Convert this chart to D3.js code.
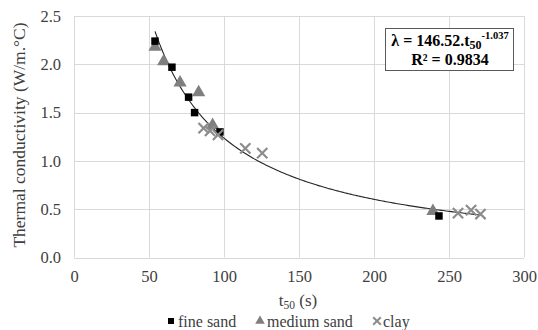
<!DOCTYPE html>
<html>
<head>
<meta charset="utf-8">
<script src="https://cdn.jsdelivr.net/npm/d3@7"></script>
<style>
  html, body { margin: 0; padding: 0; background: #fff; }
  svg text { font-family: "Liberation Serif", "Times New Roman", "DejaVu Serif", serif !important; }
</style>
</head>
<body>
<svg id="chart" width="538" height="330"></svg>
<script>
// Measured t50 (s) and thermal conductivity (W/m.°C) per soil type
const fineSandT = [54, 65.3, 76.4, 80.4, 97.3, 243.3];
const fineSandK = [2.24, 1.97, 1.66, 1.50, 1.30, 0.43];
const mediumSandT = [54, 59.8, 70.7, 83.1, 92.4, 239.3];
const mediumSandK = [2.18, 2.03, 1.81, 1.71, 1.37, 0.48];
const clayT = [86.4, 90.7, 96, 114.2, 125.5, 256, 264.7, 271];
const clayK = [1.34, 1.31, 1.27, 1.13, 1.08, 0.46, 0.49, 0.45];

// Power-law fit λ = a · t50^b
const fitA = 146.52;
const fitB = -1.037;
const fitR2 = 0.9834;

const xTicks = [0, 50, 100, 150, 200, 250, 300];
const yTicks = [0.0, 0.5, 1.0, 1.5, 2.0, 2.5];

const svg = d3.select("#chart");
const x = d3.scaleLinear().domain([0, 300]).range([74, 524]);
const y = d3.scaleLinear().domain([0, 2.5]).range([257.5, 16]);

const gridColor = "#d9d9d9";
const textColor = "#404040";

// Gridlines
svg.append("g").selectAll("line").data(yTicks).join("line")
  .attr("x1", x(0)).attr("x2", x(300))
  .attr("y1", d => Math.round(y(d)) + 0.5).attr("y2", d => Math.round(y(d)) + 0.5)
  .attr("stroke", gridColor).attr("stroke-width", 1);
svg.append("g").selectAll("line").data(xTicks).join("line")
  .attr("x1", d => Math.round(x(d)) + 0.5).attr("x2", d => Math.round(x(d)) + 0.5)
  .attr("y1", y(0)).attr("y2", y(2.5))
  .attr("stroke", gridColor).attr("stroke-width", 1);

// Axes (labels only; lines come from the grid)
const xAxis = svg.append("g").attr("transform", `translate(0,${y(0)})`)
  .call(d3.axisBottom(x).tickValues(xTicks).tickSize(0).tickPadding(13).tickFormat(d3.format("d")));
const yAxis = svg.append("g").attr("transform", `translate(${x(0)},0)`)
  .call(d3.axisLeft(y).tickValues(yTicks).tickSize(0).tickPadding(13).tickFormat(d3.format(".1f")));
[xAxis, yAxis].forEach(g => {
  g.attr("font-family", null).attr("font-size", null);
  g.select(".domain").remove();
  g.selectAll("text").attr("font-size", 16.5).attr("fill", textColor);
});

// Fitted curve across the data range
const allT = fineSandT.concat(mediumSandT, clayT);
const tMin = d3.min(allT), tMax = d3.max(allT);
const curveT = d3.range(0, 201).map(i => tMin + (tMax - tMin) * i / 200);
svg.append("path")
  .datum(curveT)
  .attr("fill", "none").attr("stroke", "#262626").attr("stroke-width", 1.1)
  .attr("d", d3.line().x(t => x(t)).y(t => y(fitA * Math.pow(t, fitB))));

// Markers
const sqSym = d3.symbol().type(d3.symbolSquare).size(56);
const triSym = d3.symbol().type(d3.symbolTriangle).size(76);
const xSym = d3.symbol().type(d3.symbolTimes).size(70);

svg.append("g").selectAll("path").data(mediumSandT.map((t, i) => [t, mediumSandK[i]])).join("path")
  .attr("transform", d => `translate(${x(d[0])},${y(d[1])})`)
  .attr("d", triSym).attr("fill", "#7f7f7f");
svg.append("g").selectAll("path").data(fineSandT.map((t, i) => [t, fineSandK[i]])).join("path")
  .attr("transform", d => `translate(${x(d[0])},${y(d[1])})`)
  .attr("d", sqSym).attr("fill", "#000");
svg.append("g").selectAll("path").data(clayT.map((t, i) => [t, clayK[i]])).join("path")
  .attr("transform", d => `translate(${x(d[0])},${y(d[1])})`)
  .attr("d", xSym).attr("fill", "none").attr("stroke", "#8c8c8c").attr("stroke-width", 2.2);

// Equation box
const box = svg.append("g");
box.append("rect").attr("x", 385.5).attr("y", 28.5).attr("width", 128).attr("height", 42)
  .attr("fill", "#fff").attr("stroke", "#595959").attr("stroke-width", 1);
const eq = box.append("text").attr("x", 450).attr("y", 46).attr("text-anchor", "middle")
  .attr("font-size", 16).attr("font-weight", "bold").attr("fill", "#000");
eq.append("tspan").text(`λ = ${fitA}.t`);
eq.append("tspan").attr("font-size", 12).attr("dy", 3).text("50");
eq.append("tspan").attr("font-size", 10.5).attr("dy", -10).text(fitB.toFixed(3));
box.append("text").attr("x", 450).attr("y", 65).attr("text-anchor", "middle")
  .attr("font-size", 16).attr("font-weight", "bold").attr("fill", "#000")
  .text(`R² = ${fitR2}`);

// Axis titles
svg.append("text").attr("transform", `translate(25,135) rotate(-90)`)
  .attr("text-anchor", "middle").attr("font-size", 17.5).attr("fill", textColor)
  .text("Thermal conductivity (W/m.°C)");
const xt = svg.append("text").attr("x", 298).attr("y", 306).attr("text-anchor", "middle")
  .attr("font-size", 17).attr("fill", textColor);
xt.append("tspan").text("t");
xt.append("tspan").attr("font-size", 11.5).attr("dy", 3).text("50");
xt.append("tspan").attr("dy", -3).text(" (s)");

// Legend
const legendItems = [
  { label: "fine sand", sym: d3.symbol().type(d3.symbolSquare).size(36), mx: 171, tx: 178, fill: "#000", stroke: "none" },
  { label: "medium sand", sym: d3.symbol().type(d3.symbolTriangle).size(40), mx: 260, tx: 267, fill: "#7f7f7f", stroke: "none" },
  { label: "clay", sym: d3.symbol().type(d3.symbolTimes).size(40), mx: 377, tx: 383, fill: "none", stroke: "#8c8c8c" }
];
const lg = svg.append("g");
legendItems.forEach(it => {
  lg.append("path").attr("transform", `translate(${it.mx},321)`)
    .attr("d", it.sym())
    .attr("fill", it.fill).attr("stroke", it.stroke).attr("stroke-width", 2);
  lg.append("text").attr("x", it.tx).attr("y", 326.5).attr("font-size", 16).attr("fill", textColor).text(it.label);
});
</script>
</body>
</html>
